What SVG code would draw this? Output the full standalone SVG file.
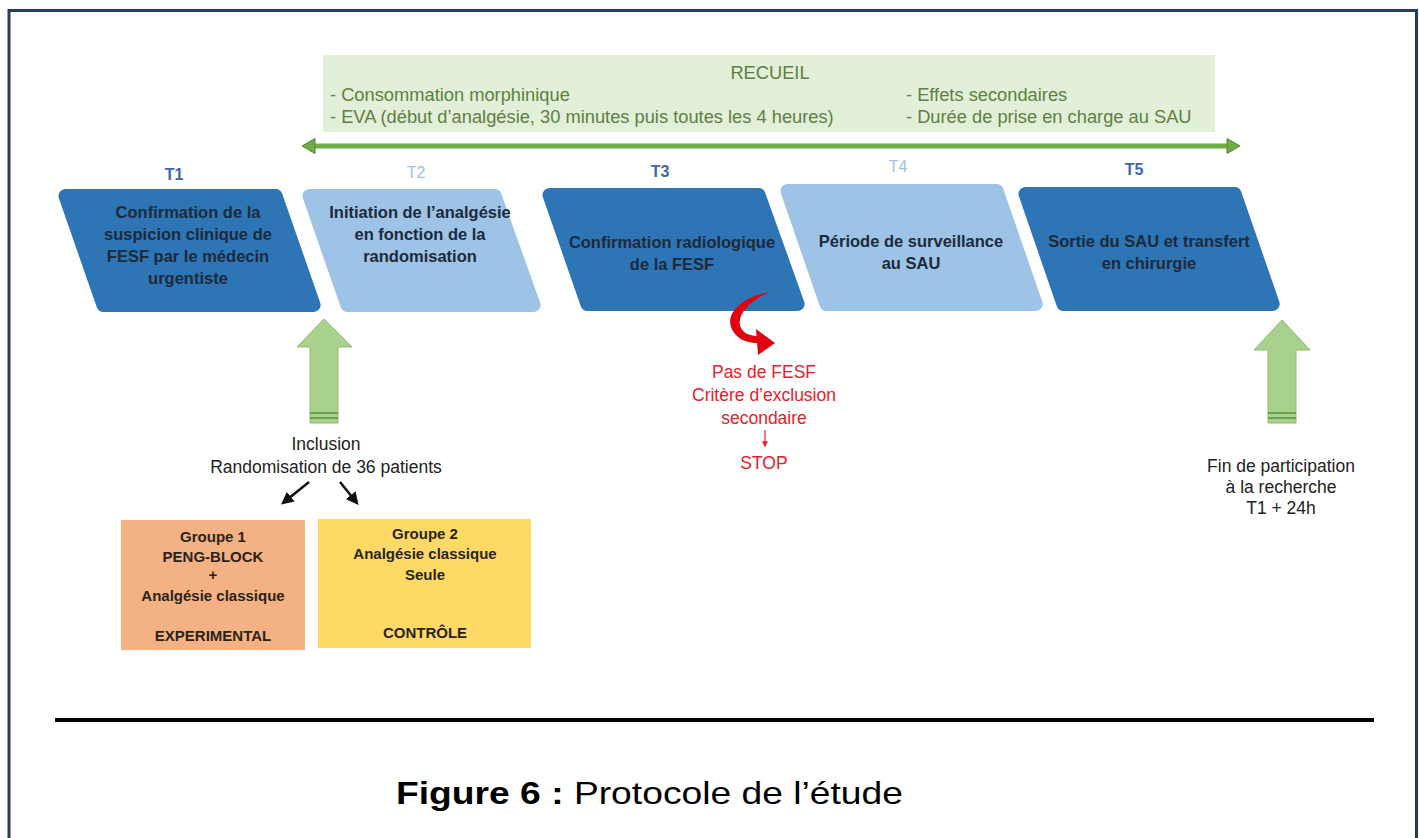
<svg xmlns="http://www.w3.org/2000/svg" width="1419" height="838" viewBox="0 0 1419 838">
<defs>
<style>
.frame{fill:none;stroke:#263b5e;stroke-width:3}
.dark{fill:#2e75b6;stroke:#2e75b6;stroke-width:14;stroke-linejoin:round}
.light{fill:#9dc3e6;stroke:#9dc3e6;stroke-width:14;stroke-linejoin:round}
.bt{font-family:"Liberation Sans",Arial,sans-serif;font-size:16.5px;font-weight:bold;fill:#1c2a3a;text-anchor:middle}
.tlab{font-family:"Liberation Sans",Arial,sans-serif;font-size:16px;text-anchor:middle}
.tdark{fill:#4166ad;font-weight:bold}
.tlight{fill:#a3bfe0}
.rec{font-family:"Liberation Sans",Arial,sans-serif;font-size:18.3px;fill:#5f8040}
.gt{font-family:"Liberation Sans",Arial,sans-serif;font-size:17.5px;fill:#222;text-anchor:middle}
.grp{font-family:"Liberation Sans",Arial,sans-serif;font-size:15px;font-weight:bold;fill:#2a2418;text-anchor:middle}
.red{font-family:"Liberation Sans",Arial,sans-serif;font-size:17.5px;fill:#e8202a;text-anchor:middle}
.uparrow{fill:#a9d18e;stroke:#8dbb6d;stroke-width:1}
.stripe{stroke:#6e9e4f;stroke-width:2}
</style>
<marker id="blk" viewBox="0 0 10 10" refX="8" refY="5" markerWidth="5" markerHeight="5" orient="auto">
<path d="M0,0 L10,5 L0,10 z" fill="#111"/>
</marker>
<marker id="redm" viewBox="0 0 10 10" refX="8" refY="5" markerWidth="5" markerHeight="5" orient="auto">
<path d="M0,0 L10,5 L0,10 z" fill="#e8202a"/>
</marker>
</defs>
<rect x="0" y="0" width="1419" height="838" fill="#ffffff"/>
<rect class="frame" x="9" y="10.5" width="1407.5" height="840"/>

<g id="recueil">
<rect x="323" y="55" width="892" height="77" fill="#e2efd9"/>
<text class="rec" x="770" y="79" text-anchor="middle">RECUEIL</text>
<text class="rec" x="330" y="101">- Consommation morphinique</text>
<text class="rec" x="330" y="123">- EVA (début d’analgésie, 30 minutes puis toutes les 4 heures)</text>
<text class="rec" x="906" y="101">- Effets secondaires</text>
<text class="rec" x="906" y="123">- Durée de prise en charge au SAU</text>
</g>

<g id="timeline">
<line x1="310" y1="146" x2="1232" y2="146" stroke="#70ad47" stroke-width="5"/>
<polygon points="302,146 315,138.5 315,153.5" fill="#70ad47" stroke="#548235" stroke-width="1"/>
<polygon points="1240,146 1227,138.5 1227,153.5" fill="#70ad47" stroke="#548235" stroke-width="1"/>
</g>

<g id="t1">
<text class="tlab tdark" x="174" y="180">T1</text>
<polygon class="dark" points="65.5,196 275.6,196 313.6,305 103.4,305"/>
<text class="bt" x="188" y="218">Confirmation de la</text>
<text class="bt" x="188" y="240">suspicion clinique de</text>
<text class="bt" x="188" y="262">FESF par le médecin</text>
<text class="bt" x="188" y="284">urgentiste</text>
</g>

<g id="t2">
<text class="tlab tlight" x="416" y="178">T2</text>
<polygon class="light" points="309.5,196 494.6,196 533.6,305 347.4,305"/>
<text class="bt" x="420" y="218">Initiation de l’analgésie</text>
<text class="bt" x="420" y="240">en fonction de la</text>
<text class="bt" x="420" y="262">randomisation</text>
</g>

<g id="t3">
<text class="tlab tdark" x="660" y="177">T3</text>
<polygon class="dark" points="549.5,195 758.6,195 797.6,304 587.4,304"/>
<text class="bt" x="672" y="248">Confirmation radiologique</text>
<text class="bt" x="672" y="270">de la FESF</text>
</g>

<g id="t4">
<text class="tlab tlight" x="898" y="172">T4</text>
<polygon class="light" points="787.5,191 996.6,191 1035.7,304 826.4,304"/>
<text class="bt" x="911" y="247">Période de surveillance</text>
<text class="bt" x="911" y="269">au SAU</text>
</g>

<g id="t5">
<text class="tlab tdark" x="1134" y="175">T5</text>
<polygon class="dark" points="1025.5,194 1234.6,194 1272.7,304 1063.4,304"/>
<text class="bt" x="1149" y="247">Sortie du SAU et transfert</text>
<text class="bt" x="1149" y="269">en chirurgie</text>
</g>

<g id="inclusion">
<polygon class="uparrow" points="324,319 352,347 338,347 338,423 310,423 310,347 297,347"/>
<line class="stripe" x1="310" y1="413" x2="338" y2="413"/>
<line class="stripe" x1="310" y1="418" x2="338" y2="418"/>
<text class="gt" x="326" y="450">Inclusion</text>
<text class="gt" x="326" y="473">Randomisation de 36 patients</text>
</g>

<g id="groupe1">
<rect x="121" y="520" width="184" height="130" fill="#f4b183"/>
<text class="grp" x="213" y="542">Groupe 1</text>
<text class="grp" x="213" y="562">PENG-BLOCK</text>
<text class="grp" x="213" y="580">+</text>
<text class="grp" x="213" y="601">Analgésie classique</text>
<text class="grp" x="213" y="641">EXPERIMENTAL</text>
</g>

<g id="groupe2">
<rect x="318" y="519" width="213" height="129" fill="#ffd966"/>
<text class="grp" x="425" y="539">Groupe 2</text>
<text class="grp" x="425" y="559">Analgésie classique</text>
<text class="grp" x="425" y="580">Seule</text>
<text class="grp" x="425" y="638">CONTRÔLE</text>
</g>

<g id="exclusion">
<text class="red" x="764" y="378">Pas de FESF</text>
<text class="red" x="764" y="401">Critère d’exclusion</text>
<text class="red" x="764" y="424">secondaire</text>
<text class="red" x="764" y="469">STOP</text>
</g>

<g id="fin">
<polygon class="uparrow" points="1282,320 1310,350 1296,350 1296,423 1268,423 1268,350 1254,350"/>
<line class="stripe" x1="1268" y1="413" x2="1296" y2="413"/>
<line class="stripe" x1="1268" y1="418" x2="1296" y2="418"/>
<text class="gt" x="1281" y="472">Fin de participation</text>
<text class="gt" x="1281" y="493">à la recherche</text>
<text class="gt" x="1281" y="514">T1 + 24h</text>
</g>

<g id="connectors">
<line x1="309" y1="482" x2="283" y2="503" stroke="#111" stroke-width="2.5" marker-end="url(#blk)"/>
<line x1="340" y1="482" x2="357" y2="503" stroke="#111" stroke-width="2.5" marker-end="url(#blk)"/>
<path d="M770,292 C744,296 722,314 733,331 C739,341 749,343 758,343 L758,336 C751,336 744,334 741,328 C735,316 750,300 770,292 z" fill="#e3000f"/>
<polygon points="756,329 775,343 758,355" fill="#e3000f"/>
<line x1="765" y1="430" x2="765" y2="446" stroke="#e8202a" stroke-width="1.2" marker-end="url(#redm)"/>
</g>

<rect x="55" y="718" width="1319" height="4" fill="#000"/>
<text x="396" y="804" font-family="'Liberation Sans',Arial,sans-serif" font-size="32px" fill="#000" textLength="507" lengthAdjust="spacingAndGlyphs"><tspan font-weight="bold">Figure 6 :</tspan> Protocole de l’étude</text>
</svg>
